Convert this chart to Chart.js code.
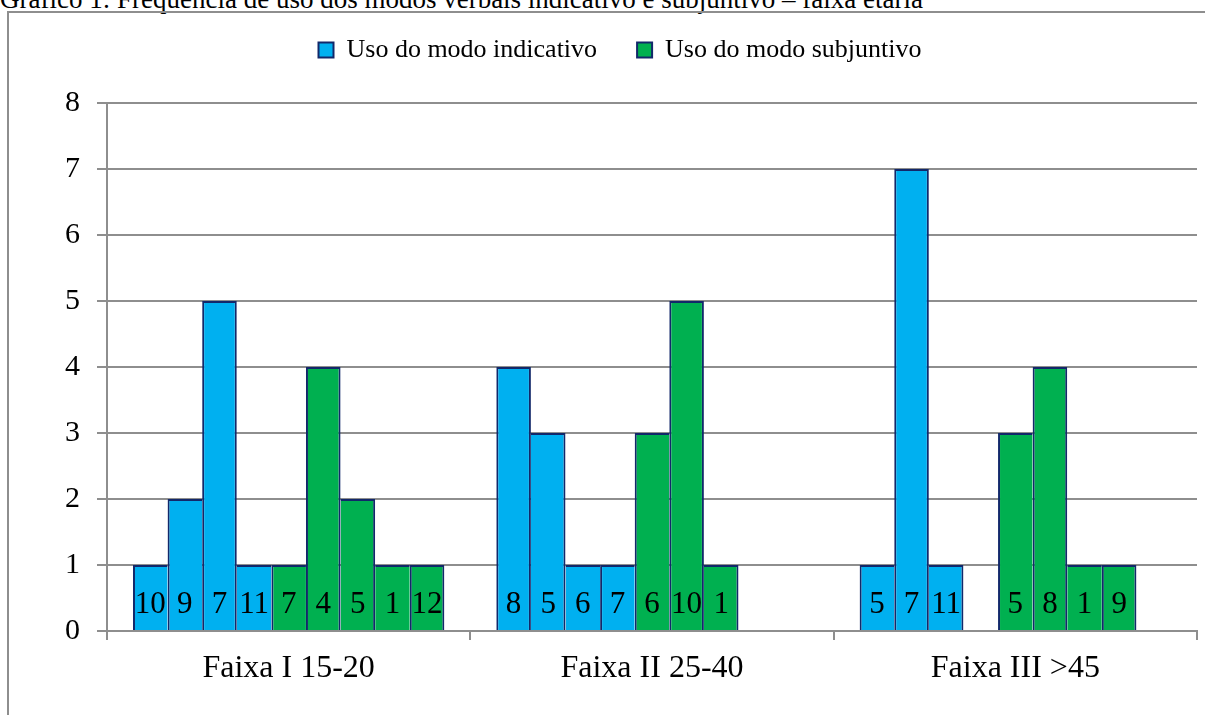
<!DOCTYPE html>
<html>
<head>
<meta charset="utf-8">
<script src="https://cdn.jsdelivr.net/npm/chart.js@4.4.1/dist/chart.umd.min.js"></script>
<style>
html,body{margin:0;padding:0;background:#fff;overflow:hidden;}
#wrap{position:relative;width:1205px;height:715px;overflow:hidden;}
#frame{position:absolute;left:7px;top:11px;width:1300px;height:800px;border-left:2px solid #8e8e8e;border-top:2px solid #8e8e8e;}
#title{position:absolute;left:0;top:-14px;font-family:'Liberation Serif';font-size:27px;line-height:27px;white-space:nowrap;color:#000;}
canvas{position:absolute;left:0;top:0;}
</style>
</head>
<body>
<div id="wrap">
  <div id="title">Gráfico 1: Frequência de uso dos modos verbais indicativo e subjuntivo – faixa etária</div>
  <div id="frame"></div>
  <canvas id="c" width="1205" height="715" style="width:1205px;height:715px"></canvas>
</div>
<script>
// ---- data ----
const categories = ['Faixa I 15-20', 'Faixa II 25-40', 'Faixa III >45'];
const yTicks = [0, 1, 2, 3, 4, 5, 6, 7, 8];
const seriesNames = ['Uso do modo indicativo', 'Uso do modo subjuntivo'];
// bar heights per category (indicative slots 1-4, subjunctive slots 5-9)
const indicativeValues = [[1, 2, 5, 1], [4, 3, 1, 1], [1, 7, 1]];
const indicativeInformants = [[10, 9, 7, 11], [8, 5, 6, 7], [5, 7, 11]];
const subjunctiveValues = [[1, 4, 2, 1, 1], [3, 5, 1], [3, 4, 1, 1]];
const subjunctiveInformants = [[7, 4, 5, 1, 12], [6, 10, 1], [5, 8, 1, 9]];
const indicativeSlots = 4;
const subjunctiveSlots = 5;

// ---- styles ----
const BLUE = '#00b0f0';
const GREEN = '#00b050';
const NAVY = '#12286a';
const GRID = '#8e8e8e';
const FONT = "'Liberation Serif', 'Times New Roman', serif";
const BW = 2;

const datasets = [];
for (let k = 0; k < indicativeSlots; k++) {
  datasets.push({
    label: seriesNames[0],
    data: categories.map((c, i) => indicativeValues[i][k] ?? null),
    informants: categories.map((c, i) => indicativeInformants[i][k] ?? null),
    backgroundColor: BLUE, borderColor: NAVY
  });
}
for (let k = 0; k < subjunctiveSlots; k++) {
  datasets.push({
    label: seriesNames[1],
    data: categories.map((c, i) => subjunctiveValues[i][k] ?? null),
    informants: categories.map((c, i) => subjunctiveInformants[i][k] ?? null),
    backgroundColor: GREEN, borderColor: NAVY
  });
}

// shared edges between adjacent bars are drawn once, by the taller bar
function edgeWidths(ctx) {
  const ds = ctx.chart.data.datasets;
  const d = ctx.datasetIndex, i = ctx.dataIndex;
  if (ctx.type !== 'data') return BW;
  const cur = ds[d].data[i];
  const prev = d > 0 ? ds[d - 1].data[i] : null;
  const next = d < ds.length - 1 ? ds[d + 1].data[i] : null;
  return {
    top: BW,
    bottom: 0,
    left: (prev == null || prev <= cur) ? BW : 0,
    right: (next == null || next < cur) ? BW : 0
  };
}

const barLabelPlugin = {
  id: 'barLabels',
  afterDatasetsDraw(chart) {
    const ctx = chart.ctx;
    const y0 = chart.scales.y.getPixelForValue(0);
    ctx.save();
    ctx.font = "31px " + FONT;
    ctx.fillStyle = '#000';
    ctx.textAlign = 'center';
    ctx.textBaseline = 'alphabetic';
    chart.data.datasets.forEach((ds, di) => {
      const meta = chart.getDatasetMeta(di);
      meta.data.forEach((bar, i) => {
        if (ds.data[i] == null) return;
        ctx.fillText(String(ds.informants[i]), bar.x, y0 - 18);
      });
    });
    ctx.restore();
  }
};

new Chart(document.getElementById('c'), {
  type: 'bar',
  data: { labels: categories, datasets: datasets },
  options: {
    responsive: false,
    animation: false,
    devicePixelRatio: 1,
    categoryPercentage: 0.857,
    barPercentage: 1,
    elements: { bar: { borderWidth: edgeWidths, borderSkipped: 'start' } },
    layout: { padding: { top: 23, left: 43, right: 8, bottom: 24 } },
    plugins: {
      tooltip: { enabled: false },
      legend: {
        display: true,
        position: 'top',
        weight: 3000,
        labels: {
          color: '#000',
          font: { family: FONT, size: 26 },
          boxWidth: 15,
          boxHeight: 15,
          padding: 14,
          generateLabels(chart) {
            const items = Chart.defaults.plugins.legend.labels.generateLabels(chart)
              .filter(it => it.datasetIndex === 0 || it.datasetIndex === indicativeSlots);
            items.forEach(it => { it.lineWidth = 2; it.strokeStyle = NAVY; });
            if (items[0]) items[0].text = items[0].text + '\u2002\u2002';
            return items;
          }
        }
      },
      title: {
        display: true,
        text: ' ',
        font: { size: 20 },
        padding: { top: 3, bottom: 3 }
      }
    },
    scales: {
      x: {
        grid: { display: true, drawOnChartArea: false, drawTicks: true, tickLength: 9, color: GRID, lineWidth: 2, offset: true },
        border: { display: true, color: GRID, width: 2 },
        ticks: { color: '#000', font: { family: FONT, size: 32 }, padding: 9, maxRotation: 0 },
        afterFit(s) { s.height = 60; }
      },
      y: {
        min: yTicks[0],
        max: yTicks[yTicks.length - 1],
        grid: { display: true, drawTicks: true, tickLength: 10, color: GRID, lineWidth: 2 },
        border: { display: true, color: GRID, width: 2 },
        ticks: { stepSize: 1, color: '#000', font: { family: FONT, size: 30 }, padding: 17 },
        afterFit(s) { s.width = 64; }
      }
    }
  },
  plugins: [barLabelPlugin]
});
</script>
</body>
</html>
